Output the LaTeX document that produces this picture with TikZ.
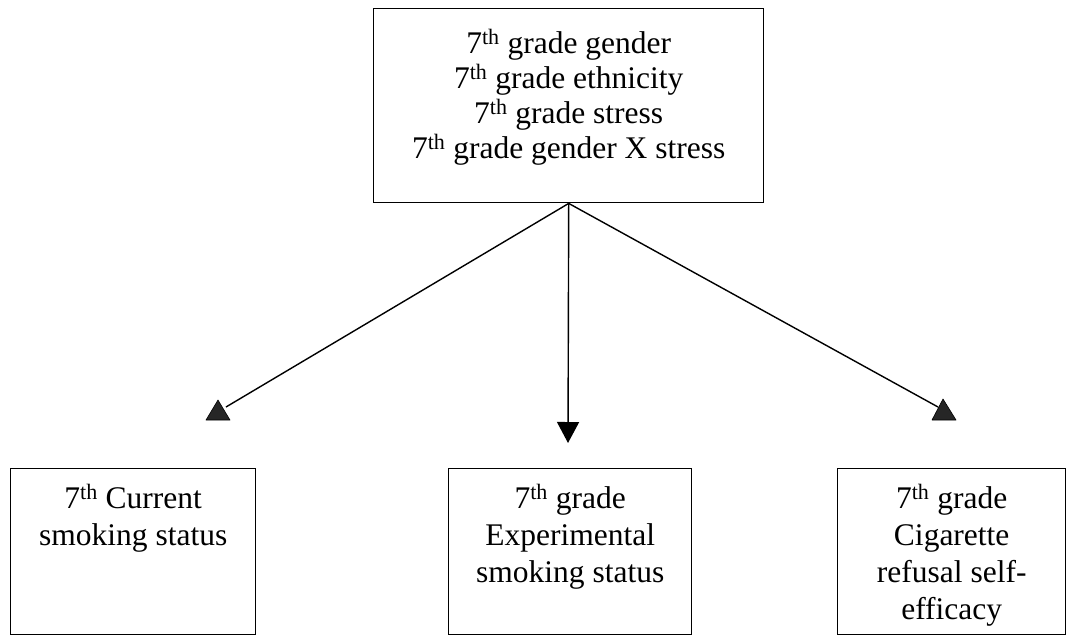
\documentclass[tikz,border=0pt]{standalone}
\usepackage{fontspec}
\setmainfont{Liberation Serif}
\usetikzlibrary{arrows.meta}
\tikzset{
  box/.style={draw, line width=1.4pt, inner sep=0pt, anchor=north west},
  conn/.style={line width=1.4pt},
  head/.style={fill=black!85, draw=black, line width=0.6pt, line join=round}
}
\newcommand{\sth}{7\textsuperscript{th}}
\newcommand{\topfont}{\fontsize{31.5}{35}\selectfont\lineskiplimit=-100pt}
\newcommand{\botfont}{\fontsize{31.5}{37}\selectfont\lineskiplimit=-100pt}
\begin{document}
\begin{tikzpicture}[x=1pt,y=-1pt]
\useasboundingbox (0,0) rectangle (1067,635);
\node[box] (top) at (373,8) {\parbox[c][194pt][t]{390pt}{\centering\topfont\rule{0pt}{45pt}\sth{} grade gender\\\sth{} grade ethnicity\\\sth{} grade stress\\\sth{} grade gender X stress}};
\node[box] (cur) at (10,468) {\parbox[c][166pt][t]{245pt}{\centering\botfont\rule{0pt}{40pt}\sth{} Current\\smoking status}};
\node[box] (exp) at (448,468) {\parbox[c][166pt][t]{243pt}{\centering\botfont\rule{0pt}{40pt}\sth{} grade\\Experimental\\smoking status}};
\node[box] (ref) at (837,468) {\parbox[c][166pt][t]{228pt}{\centering\botfont\rule{0pt}{40pt}\sth{} grade\\Cigarette\\refusal self-\\efficacy}};
\coordinate (la) at (226,407);
\coordinate (ma) at (568,443);
\coordinate (ra) at (938,407);
\draw[conn] (top.south) -- (la);
\draw[conn] (top.south) -- (ra);
\draw[conn, -{Triangle[length=21pt,width=22pt]}] (top.south) -- (ma);
\filldraw[head] (218,400) -- (230,420) -- (206,420) -- cycle;
\filldraw[head] (943,399) -- (956,420) -- (932,420) -- cycle;
\end{tikzpicture}
\end{document}
